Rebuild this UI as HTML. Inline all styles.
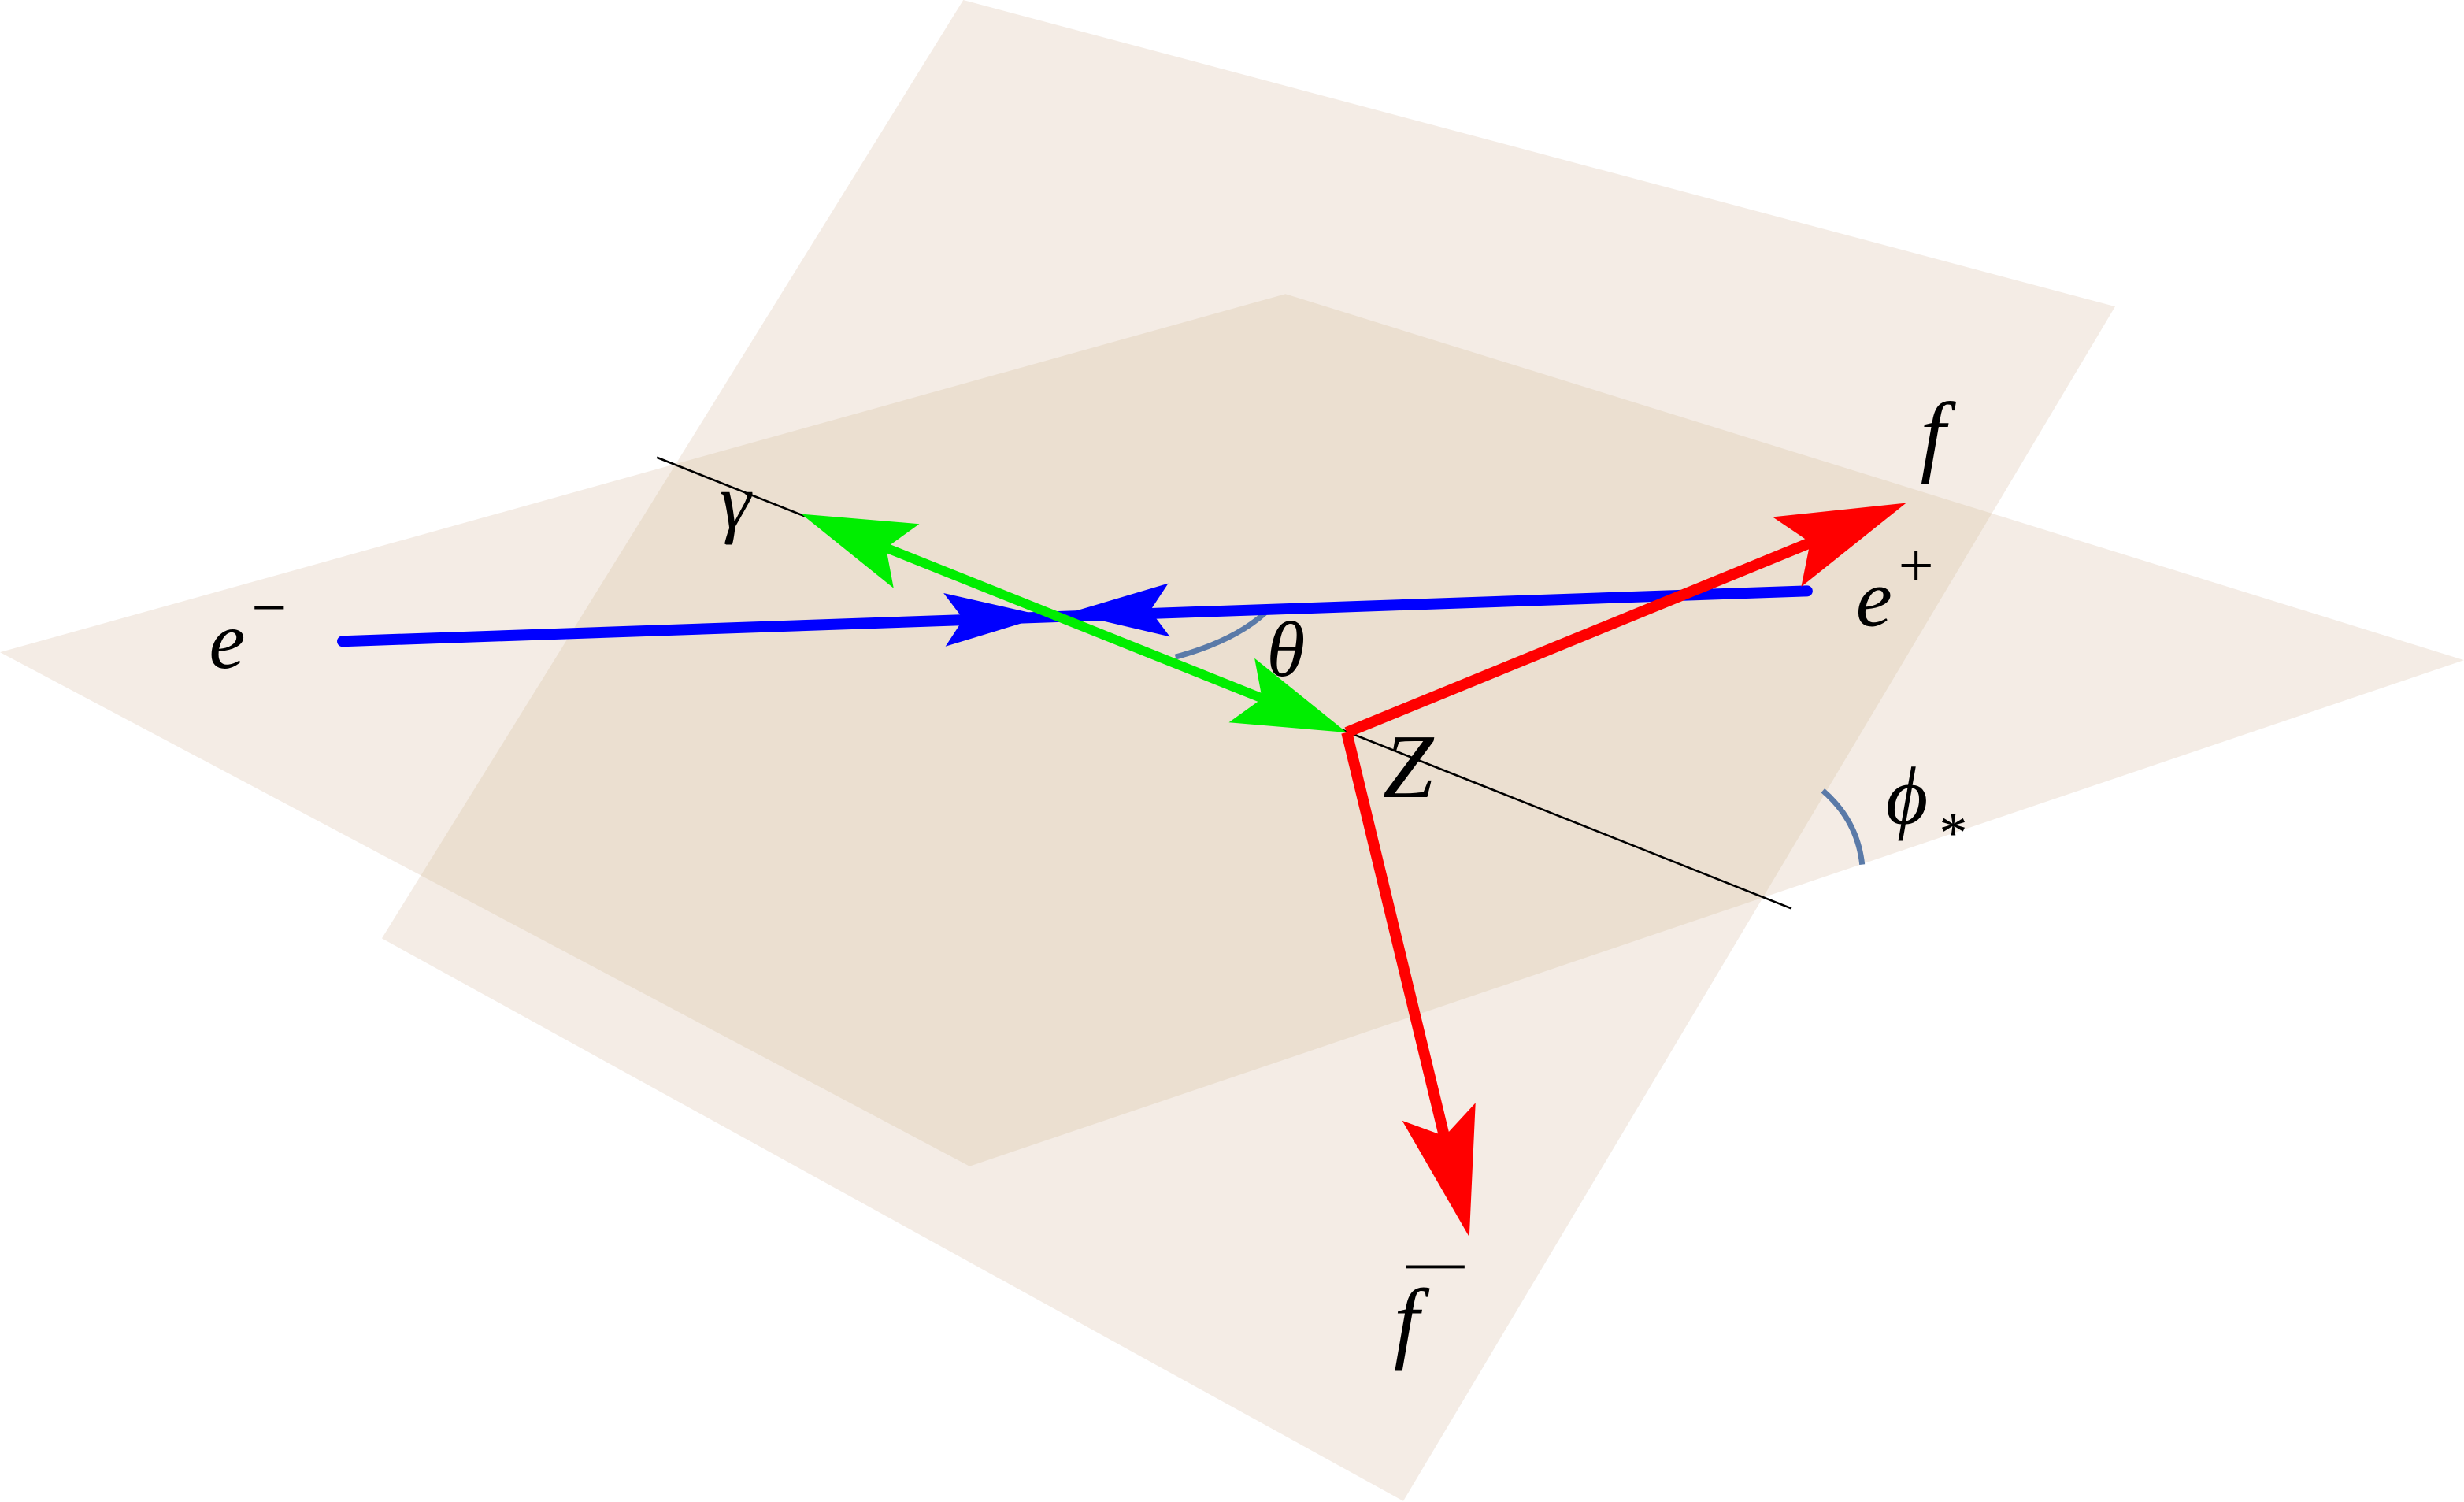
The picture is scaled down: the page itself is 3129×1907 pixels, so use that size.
<!DOCTYPE html>
<html><head><meta charset="utf-8"><style>
html,body{margin:0;padding:0;background:#fff}
svg{display:block}
text{font-family:"Liberation Serif","DejaVu Serif",serif;font-style:italic;fill:#000}
</style></head><body>
<svg width="3129" height="1907" viewBox="0 0 1568 955.6" xmlns="http://www.w3.org/2000/svg">
<defs>
<clipPath id="c1"><polygon points="613,0 1346,195 893,955 243,597"/></clipPath>
<marker id="mb" markerUnits="userSpaceOnUse" viewBox="-70 -20 72 40" refX="0" refY="0" markerWidth="72" markerHeight="40" orient="auto"><path d="M0,0 L-64,-17 L-52,0 L-64,17 Z" fill="#0000ff"/></marker>
<marker id="mg" markerUnits="userSpaceOnUse" viewBox="-80 -25 82 50" refX="0" refY="0" markerWidth="82" markerHeight="50" orient="auto"><path d="M0,0 L-72,-22 L-58,0 L-72,22 Z" fill="#00ee00"/></marker>
<marker id="mr" markerUnits="userSpaceOnUse" viewBox="-90 -28 92 56" refX="0" refY="0" markerWidth="92" markerHeight="56" orient="auto"><path d="M0,0 L-82,-24 L-66,0 L-82,24 Z" fill="#ff0000"/></marker>
</defs>
<polygon points="613,0 1346,195 893,955 243,597" fill="#f4ece5"/>
<polygon points="0,415 818,187 1568,420 617,742" fill="#f4ece5"/>
<polygon points="0,415 818,187 1568,420 617,742" fill="#ebdfd0" clip-path="url(#c1)"/>
<line x1="418" y1="291" x2="1140" y2="578" stroke="#000" stroke-width="1.3"/>
<path d="M748,418 Q785,408 805,390" fill="none" stroke="#5a7aa8" stroke-width="3.5"/>
<path d="M1160,503 Q1182,522 1185,550" fill="none" stroke="#5a7aa8" stroke-width="3.5"/>
<line x1="218" y1="408" x2="1150" y2="376" stroke="#0000ff" stroke-width="7" stroke-linecap="round"/>
<line x1="218" y1="408" x2="665" y2="392" stroke="none" marker-end="url(#mb)" stroke-width="7"/>
<line x1="1150" y1="376" x2="680" y2="390" stroke="none" marker-end="url(#mb)" stroke-width="7"/>
<line x1="520" y1="331" x2="845" y2="461" stroke="#00ee00" stroke-width="6"/>
<line x1="857" y1="466" x2="510" y2="327" stroke="none" marker-end="url(#mg)"/>
<line x1="510" y1="327" x2="857" y2="466" stroke="none" marker-end="url(#mg)"/>
<line x1="857" y1="466" x2="1160" y2="342" stroke="#ff0000" stroke-width="7"/>
<line x1="857" y1="466" x2="922" y2="735" stroke="#ff0000" stroke-width="7"/>
<line x1="857" y1="466" x2="1213" y2="320" stroke="none" marker-end="url(#mr)"/>
<line x1="857" y1="466" x2="935" y2="787" stroke="none" marker-end="url(#mr)"/>
<text x="133" y="425" font-size="52">e</text>
<text x="160" y="400" font-size="40" style="font-style:normal">−</text>
<text x="458" y="336" font-size="50">γ</text>
<text x="806" y="430" font-size="50">θ</text>
<text x="880" y="507" font-size="58">Z</text>
<text x="1222" y="296" font-size="58">f</text>
<text x="1181" y="398" font-size="52">e</text>
<text x="1208" y="373" font-size="40" style="font-style:normal">+</text>
<text x="1200" y="524" font-size="52">ϕ</text>
<text x="1234" y="542" font-size="36" style="font-style:normal">*</text>
<text x="887" y="860" font-size="58">f</text>
<line x1="895" y1="806" x2="932" y2="806" stroke="#000" stroke-width="2"/>
</svg>
</body></html>
